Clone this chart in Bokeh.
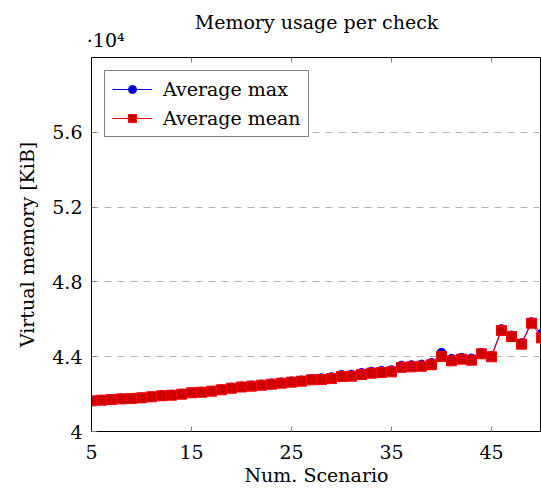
from bokeh.plotting import figure
from bokeh.models import (FixedTicker, LinearAxis, Title, Legend, LegendItem, Range1d)
from bokeh.embed import file_html
from bokeh.resources import INLINE

scenarios = list(range(5, 51))
avg_max = [41660, 41695, 41730, 41770, 41790, 41825, 41880, 41940, 41970, 42025,
           42100, 42130, 42185, 42260, 42345, 42410, 42460, 42510, 42570, 42625,
           42680, 42730, 42810, 42850, 42905, 43020, 43040, 43130, 43200, 43240,
           43275, 43520, 43545, 43580, 43660, 44210, 43885, 43940, 43905, 44210,
           44050, 45470, 45135, 44720, 45845, 45225]
avg_mean = [41640, 41675, 41710, 41745, 41765, 41800, 41855, 41910, 41940, 41995,
            42070, 42100, 42155, 42230, 42315, 42380, 42425, 42475, 42530, 42585,
            42640, 42690, 42765, 42780, 42835, 42940, 42960, 43050, 43120, 43155,
            43190, 43430, 43460, 43490, 43570, 44010, 43780, 43870, 43815, 44155,
            43995, 45400, 45080, 44670, 45790, 45010]
x_ticks = [5, 15, 25, 35, 45]
y_ticks = [40000, 44000, 48000, 52000, 56000]
y_tick_labels = ["4", "4.4", "4.8", "5.2", "5.6"]
x_min, x_max = 5, 50
y_min, y_max = 40000, 60000

FONT = "DejaVu Serif"
FS = "19px"

p = figure(width=541, height=488, output_backend="svg", toolbar_location=None,
           x_range=Range1d(x_min, x_max), y_range=Range1d(y_min, y_max),
           min_border_left=91, min_border_right=0, min_border_top=57, min_border_bottom=57,
           title=None)

top = LinearAxis(ticker=FixedTicker(ticks=x_ticks), major_tick_in=5, major_tick_out=0,
                 minor_tick_line_color=None, major_tick_line_color="#808080",
                 axis_line_color=None, major_label_text_font_size="0px",
                 major_label_standoff=0,
                 axis_label="\u2002\u2003·10⁴", axis_label_align="start",
                 axis_label_standoff=7, axis_label_text_font=FONT,
                 axis_label_text_font_size=FS, axis_label_text_font_style="normal",
                 axis_label_text_color="black")
p.add_layout(top, "above")
p.add_layout(Title(text="Memory usage per check", align="center", standoff=-14,
                   text_font=FONT, text_font_size=FS, text_font_style="normal",
                   text_color="black"), "above")

p.outline_line_color = "black"
p.outline_line_width = 1
p.background_fill_color = "white"
p.border_fill_color = "white"

p.xgrid.visible = False
p.ygrid.ticker = FixedTicker(ticks=y_ticks)
p.ygrid.grid_line_color = "#b3b3b3"
p.ygrid.grid_line_dash = "7 6"

xax = p.below[0]
yax = p.left[0]
xax.ticker = FixedTicker(ticks=x_ticks)
xax.axis_label = "Num. Scenario"
xax.major_label_standoff = 13
xax.axis_label_standoff = 2
yax.ticker = FixedTicker(ticks=y_ticks)
yax.major_label_overrides = {t: l for t, l in zip(y_ticks, y_tick_labels)}
yax.axis_label = "Virtual memory [KiB]"
yax.major_label_standoff = 9
yax.axis_label_standoff = 11

for ax in [xax, yax]:
    ax.major_tick_in = 5
    ax.major_tick_out = 0
    ax.minor_tick_line_color = None
    ax.major_tick_line_color = "#808080"
    ax.axis_line_color = "black"
    ax.major_label_text_font = FONT
    ax.major_label_text_font_size = FS
    ax.major_label_text_color = "black"
    ax.axis_label_text_font = FONT
    ax.axis_label_text_font_size = FS
    ax.axis_label_text_font_style = "normal"
    ax.axis_label_text_color = "black"

l1 = p.line(scenarios, avg_max, line_color="blue", line_width=1)
m1 = p.scatter(scenarios, avg_max, marker="circle", size=9, fill_color="#0000cc",
               line_color="blue", line_width=1)
l2 = p.line(scenarios, avg_mean, line_color="red", line_width=1)
m2 = p.scatter(scenarios, avg_mean, marker="square", size=10, fill_color="#cc0000",
               line_color="red", line_width=1)

legend = Legend(items=[LegendItem(label="Average max", renderers=[l1, m1]),
                       LegendItem(label="Average mean", renderers=[l2, m2])],
                location="top_left")
legend.margin = 13
legend.padding = 7
legend.spacing = 7
legend.glyph_width = 40
legend.label_standoff = 11
legend.label_text_font = FONT
legend.label_text_font_size = FS
legend.label_text_color = "black"
legend.border_line_color = "black"
legend.border_line_width = 1
legend.background_fill_alpha = 1
p.add_layout(legend, "center")

open("out.html", "w").write(file_html(p, INLINE))
